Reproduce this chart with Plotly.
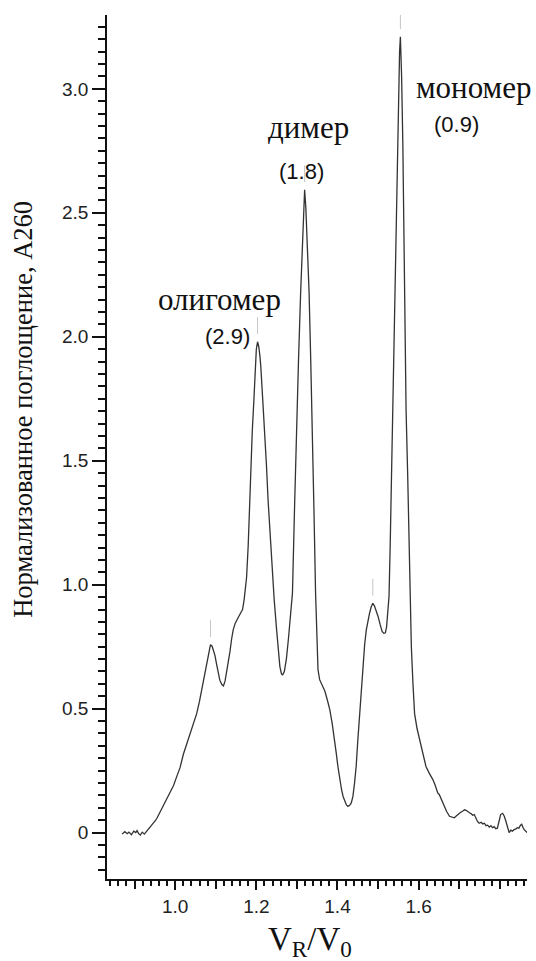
import plotly.graph_objects as go

# Elution profile: relative retention volume vs normalised A260 absorbance
vr_v0 = [
    0.869, 0.876, 0.882, 0.886, 0.892, 0.898, 0.903, 0.906, 0.910, 0.914,
    0.919, 0.924, 0.929, 0.934, 0.939, 0.943, 0.948, 0.952, 0.955, 0.960,
    0.965, 0.971, 0.976, 0.980, 0.984, 0.990, 0.996, 1.004, 1.012, 1.020,
    1.029, 1.037, 1.045, 1.053, 1.060, 1.066, 1.070, 1.075, 1.080, 1.084,
    1.087, 1.091, 1.095, 1.098, 1.102, 1.106, 1.110, 1.115, 1.119, 1.123,
    1.127, 1.131, 1.135, 1.139, 1.143, 1.148, 1.152, 1.156, 1.161, 1.166,
    1.170, 1.173, 1.176, 1.180, 1.183, 1.186, 1.190, 1.194, 1.198, 1.200,
    1.203, 1.206, 1.209, 1.211, 1.216, 1.221, 1.225, 1.229, 1.234, 1.240,
    1.244, 1.250, 1.254, 1.258, 1.262, 1.265, 1.269, 1.274, 1.279, 1.283,
    1.289, 1.294, 1.299, 1.304, 1.309, 1.313, 1.316, 1.319, 1.322, 1.324,
    1.327, 1.330, 1.334, 1.338, 1.342, 1.346, 1.349, 1.352, 1.356, 1.362,
    1.369, 1.375, 1.381, 1.387, 1.393, 1.397, 1.401, 1.405, 1.410, 1.414,
    1.418, 1.422, 1.426, 1.430, 1.434, 1.438, 1.442, 1.446, 1.450, 1.455,
    1.459, 1.463, 1.467, 1.471, 1.475, 1.479, 1.483, 1.487, 1.491, 1.496,
    1.500, 1.505, 1.510, 1.514, 1.518, 1.521, 1.524, 1.527, 1.530, 1.533,
    1.536, 1.540, 1.543, 1.546, 1.549, 1.551, 1.553, 1.555, 1.557, 1.558,
    1.561, 1.563, 1.565, 1.567, 1.569, 1.573, 1.576, 1.579, 1.582, 1.586,
    1.590, 1.596, 1.602, 1.610, 1.618, 1.626, 1.635, 1.641, 1.647, 1.651,
    1.657, 1.663, 1.669, 1.676, 1.682, 1.688, 1.692, 1.696, 1.702, 1.708,
    1.713, 1.717, 1.721, 1.725, 1.729, 1.733, 1.737, 1.741, 1.745, 1.749,
    1.754, 1.758, 1.762, 1.766, 1.770, 1.774, 1.778, 1.782, 1.786, 1.790,
    1.794, 1.798, 1.802, 1.807, 1.811, 1.815, 1.819, 1.823, 1.827, 1.831,
    1.835, 1.839, 1.843, 1.847, 1.851, 1.854, 1.857, 1.860, 1.864, 1.867,
]
a260 = [
    -0.006, 0.004, -0.004, 0.002, -0.008, 0.006, 0.000, 0.008, -0.004, -0.010,
    0.002, -0.006, 0.004, 0.012, 0.024, 0.032, 0.040, 0.050, 0.058, 0.074,
    0.090, 0.106, 0.122, 0.134, 0.146, 0.166, 0.190, 0.227, 0.262, 0.315,
    0.362, 0.400, 0.440, 0.480, 0.530, 0.580, 0.617, 0.660, 0.710, 0.745,
    0.758, 0.752, 0.735, 0.715, 0.680, 0.644, 0.615, 0.597, 0.592, 0.612,
    0.650, 0.684, 0.730, 0.780, 0.818, 0.845, 0.860, 0.870, 0.885, 0.900,
    0.940, 0.985, 1.030, 1.160, 1.320, 1.477, 1.620, 1.746, 1.880, 1.950,
    1.980, 1.960, 1.920, 1.880, 1.740, 1.610, 1.480, 1.340, 1.200, 1.070,
    0.940, 0.818, 0.740, 0.670, 0.640, 0.637, 0.650, 0.700, 0.780, 0.845,
    0.966, 1.300, 1.640, 1.910, 2.170, 2.350, 2.480, 2.593, 2.520, 2.440,
    2.310, 2.180, 1.910, 1.640, 1.300, 0.966, 0.800, 0.657, 0.617, 0.595,
    0.570, 0.535, 0.496, 0.440, 0.375, 0.320, 0.267, 0.220, 0.173, 0.145,
    0.125, 0.112, 0.106, 0.110, 0.120, 0.146, 0.200, 0.267, 0.370, 0.480,
    0.590, 0.684, 0.760, 0.818, 0.855, 0.885, 0.910, 0.925, 0.915, 0.895,
    0.872, 0.840, 0.812, 0.804, 0.806, 0.830, 0.880, 0.953, 1.170, 1.440,
    1.706, 1.980, 2.240, 2.510, 2.780, 3.050, 3.150, 3.210, 3.140, 3.050,
    2.780, 2.510, 2.240, 1.970, 1.706, 1.440, 1.170, 0.953, 0.750, 0.600,
    0.480, 0.420, 0.375, 0.320, 0.267, 0.240, 0.214, 0.190, 0.160, 0.153,
    0.128, 0.106, 0.085, 0.066, 0.062, 0.060, 0.066, 0.073, 0.080, 0.086,
    0.092, 0.090, 0.084, 0.080, 0.077, 0.070, 0.073, 0.058, 0.045, 0.038,
    0.042, 0.035, 0.038, 0.028, 0.030, 0.022, 0.028, 0.020, 0.024, 0.016,
    0.018, 0.045, 0.073, 0.078, 0.066, 0.046, 0.020, 0.000, 0.010, 0.006,
    0.012, 0.014, 0.020, 0.018, 0.030, 0.034, 0.022, 0.012, 0.006, 0.000,
]

# Detected peak apexes (small grey markers drawn just above each)
peak_x = [1.087, 1.203, 1.319, 1.487, 1.555]
peak_y = [0.758, 1.980, 2.593, 0.925, 3.210]
marker_gap = 0.065

# Species labels with their values in parentheses
species_names = ["олигомер", "димер", "мономер"]
species_name_x = [1.110, 1.328, 1.737]
species_name_y = [2.150, 2.843, 3.004]
species_values = ["(2.9)", "(1.8)", "(0.9)"]
species_value_x = [1.130, 1.311, 1.694]
species_value_y = [2.003, 2.665, 2.855]

# Axis ticks: labelled majors, unlabelled intermediate tenths
x_labelled = [1.0, 1.2, 1.4, 1.6]
x_labelled_text = ["1.0", "1.2", "1.4", "1.6"]
x_plain = [0.9, 1.1, 1.3, 1.5, 1.7, 1.8]
y_major = [0.0, 0.5, 1.0, 1.5, 2.0, 2.5, 3.0]
y_major_text = ["0", "0.5", "1.0", "1.5", "2.0", "2.5", "3.0"]

SERIF = "Liberation Serif, Times New Roman, serif"
SANS = "Liberation Sans, Arial, sans-serif"
INK = "#111111"

fig = go.Figure()
fig.add_trace(go.Scatter(
    x=vr_v0, y=a260, mode="lines",
    line=dict(color="#333333", width=1.3),
    hoverinfo="skip", showlegend=False,
))
fig.add_trace(go.Scatter(
    x=peak_x, y=[v + marker_gap for v in peak_y], mode="markers",
    xaxis="x2",
    marker=dict(symbol="line-ns", size=12, line=dict(color="#c4c4c4", width=1)),
    hoverinfo="skip", showlegend=False,
))

for name, nx, ny in zip(species_names, species_name_x, species_name_y):
    fig.add_annotation(x=nx, y=ny, xref="x", yref="y", text=name, showarrow=False,
                       font=dict(family=SERIF, size=31, color=INK))
for val, vx, vy in zip(species_values, species_value_x, species_value_y):
    fig.add_annotation(x=vx, y=vy, xref="x", yref="y", text=val, showarrow=False,
                       font=dict(family=SANS, size=22, color=INK))

fig.add_annotation(x=0.483, y=-0.072, xref="paper", yref="paper",
                   text="V<sub>R</sub>/V<sub>0</sub>", showarrow=False,
                   xanchor="center", yanchor="middle",
                   font=dict(family=SERIF, size=33, color=INK))
fig.add_annotation(x=-0.2, y=0.543, xref="paper", yref="paper",
                   text="Нормализованное поглощение, А260", showarrow=False,
                   textangle=-90, xanchor="center", yanchor="middle",
                   font=dict(family=SERIF, size=26.5, color=INK))

axis_common = dict(
    showgrid=False, zeroline=False,
    linecolor=INK, linewidth=1.5,
    ticks="outside", tickcolor=INK, tickwidth=1.5,
    tickmode="array",
    tickfont=dict(family=SANS, size=19, color="#222222"),
)
fig.update_layout(
    xaxis=dict(
        **axis_common, showline=True, range=[0.832, 1.867],
        tickvals=x_labelled, ticktext=x_labelled_text, ticklen=9,
        minor=dict(tick0=0.0, dtick=0.02, ticks="outside", ticklen=5,
                   tickcolor=INK, tickwidth=1.5),
    ),
    xaxis2=dict(
        **axis_common, showline=False, overlaying="x", matches="x",
        anchor="y", side="bottom", range=[0.832, 1.867],
        tickvals=x_plain, ticklen=9, showticklabels=False,
    ),
    yaxis=dict(
        **axis_common, showline=True, range=[-0.187, 3.298],
        tickvals=y_major, ticktext=y_major_text, ticklen=13,
        minor=dict(tick0=0.0, dtick=0.05, ticks="outside", ticklen=7,
                   tickcolor=INK, tickwidth=1.5),
    ),
    width=536, height=961,
    margin=dict(l=107, r=9, t=15, b=82),
    paper_bgcolor="white", plot_bgcolor="white",
    showlegend=False,
)

fig.write_html("out.html")
